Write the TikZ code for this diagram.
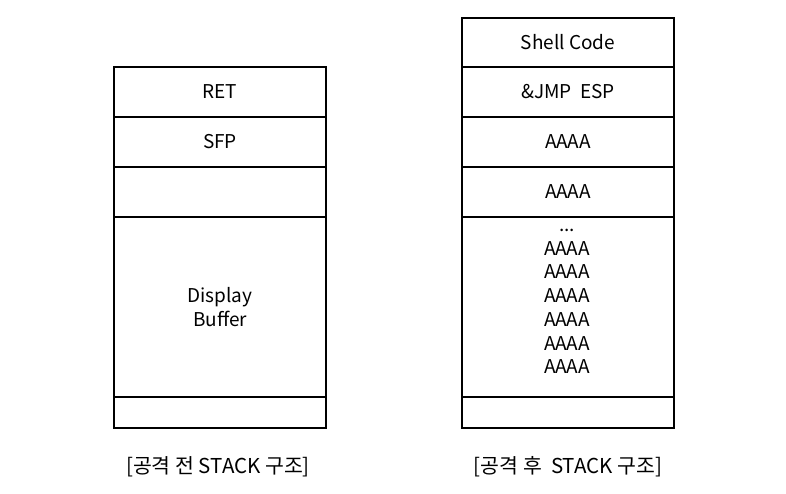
\documentclass[tikz,border=0pt]{standalone}
\usepackage{fontspec}
\setmainfont{Noto Sans CJK KR}
\begin{document}
\begin{tikzpicture}[x=1pt,y=-1pt,
  cell/.style={draw=black, line width=2pt, anchor=north west, inner sep=0pt,
    minimum width=212pt, font=\fontsize{19}{23.7}\selectfont, align=center},
  lbl/.style={inner sep=0pt, font=\fontsize{19}{23.7}\selectfont, align=center},
  captxt/.style={inner sep=0pt, font=\fontsize{20.5}{24}\selectfont}]
\useasboundingbox (0,0) rectangle (786,494);
% left stack
\node[cell, minimum height=50pt] (ret) at (113,66) {RET};
\node[cell, minimum height=50pt] (sfp) at (113,116) {SFP};
\node[cell, minimum height=50pt] (lemp) at (113,166) {};
\node[cell, minimum height=180pt] (buf) at (113,216) {Display\\Buffer};
\node[cell, minimum height=31pt] (lbot) at (113,396) {};
% right stack
\node[cell, minimum height=49pt] (sc) at (461,17) {Shell Code};
\node[cell, minimum height=50pt] (jmp) at (461,66) {\&JMP~~ESP};
\node[cell, minimum height=50pt] (a1) at (461,116) {AAAA};
\node[cell, minimum height=50pt] (a2) at (461,166) {AAAA};
\node[cell, minimum height=180pt] (afill) at (461,216) {};
\node[cell, minimum height=31pt] (rbot) at (461,396) {};
\node[lbl, anchor=north] (atext) at (567,229) {...\\AAAA\\AAAA\\AAAA\\AAAA\\AAAA\\AAAA};
% captions
\node[captxt] (lcap) at (218,467) {[공격 전 STACK 구조]};
\node[captxt] (rcap) at (568,467) {[공격 후~~STACK 구조]};
\end{tikzpicture}
\end{document}
